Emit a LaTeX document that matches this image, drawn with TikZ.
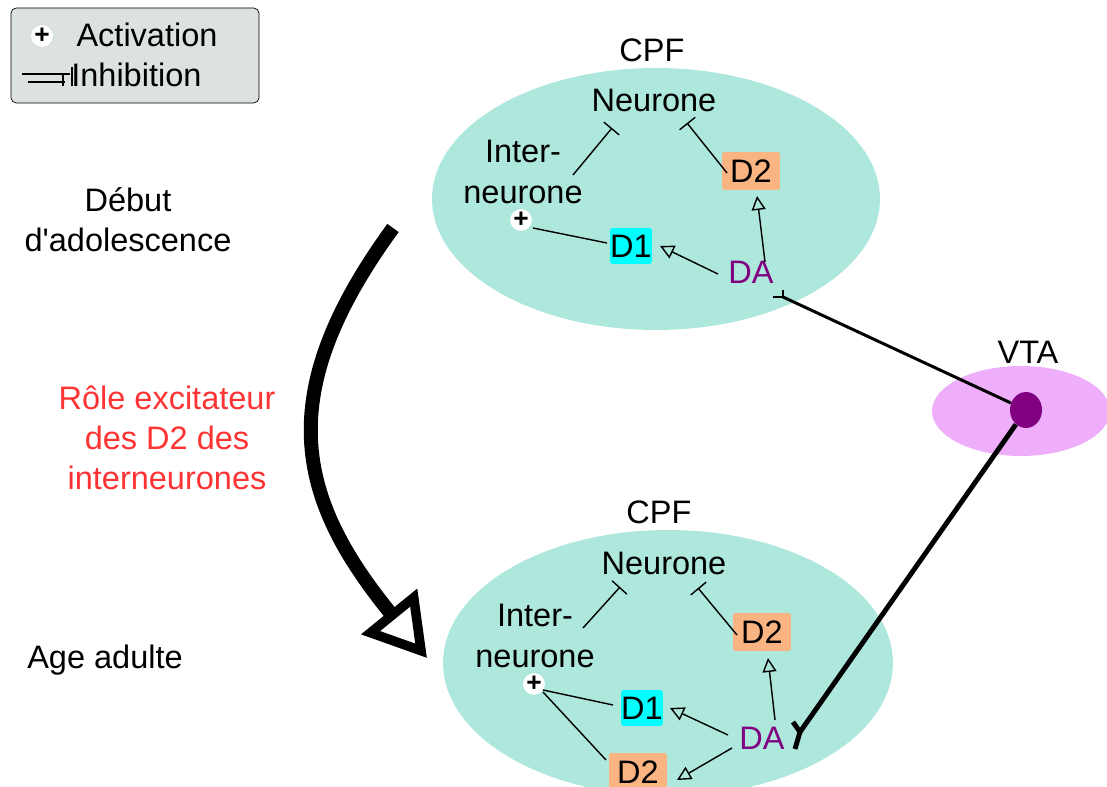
\documentclass[tikz,border=0pt]{standalone}
\usepackage{fontspec}
\setmainfont{Liberation Sans}[Ligatures=TeXOff]
\usetikzlibrary{arrows.meta,shapes.geometric}

\definecolor{cpfgreen}{RGB}{174,232,220}
\definecolor{vtapink}{RGB}{238,174,252}
\definecolor{legendgray}{RGB}{220,226,222}
\definecolor{recorange}{RGB}{250,180,130}
\definecolor{recCyan}{RGB}{0,255,255}
\definecolor{daviolet}{RGB}{128,0,128}
\definecolor{rolered}{RGB}{255,51,51}

\tikzset{
  lbl/.style={font=\fontsize{18.5}{22.8}\selectfont, inner sep=0pt},
  rec/.style={lbl, rounded corners=1.5pt, minimum height=0.76cm},
  dtwo/.style={rec, fill=recorange, minimum width=1.16cm},
  done/.style={rec, fill=recCyan, minimum width=0.84cm, minimum height=0.72cm},
  plus/.style={circle, fill=white, inner sep=0pt, minimum size=0.4cm,
    font=\bfseries\fontsize{15}{15}\selectfont},
  inhib/.style={thick, -{Bar[width=0.4cm]}},
  activ/.style={thick, -{Triangle[open,length=0.28cm,width=0.28cm]}},
  link/.style={thick},
}

\begin{document}
\begin{tikzpicture}[x=0.02cm, y=-0.02cm]
\useasboundingbox (0,0) rectangle (1107,787);

% legende
\draw[fill=legendgray, rounded corners=3pt] (11,8) rectangle (259,103);
\node[plus] (legplus) at (42,36) {+};
\node[lbl] (legact) at (147,35) {Activation};
\node[lbl, anchor=west] (leginh) at (71,75) {Inhibition};
\draw[thick] (22,74) -- (70,74) (28,82) -- (65,82) (63,75) -- (63,86) (72,67) -- (72,86);

% zones
\fill[cpfgreen] (656,199) ellipse [x radius=4.48cm, y radius=2.62cm];
\fill[cpfgreen] (668,663) ellipse [x radius=4.5cm, y radius=2.66cm];
\fill[vtapink] (1021,411) ellipse [x radius=1.78cm, y radius=0.9cm];

% textes a gauche
\node[lbl, align=center] (debut) at (128,220) {Début\\d'adolescence};
\node[lbl, align=center, text=rolered] (role) at (167,438) {Rôle excitateur\\des D2 des\\interneurones};
\node[lbl] (adulte) at (105,660) {Age adulte};

% CPF debut
\node[lbl] (cpf1) at (652,50) {CPF};
\node[lbl] (neur1) at (654,100) {Neurone};
\node[lbl, align=center] (inter1) at (523,172) {Inter-\\neurone};
\node[dtwo] (d2a1) at (751,171) {D2};
\node[done] (d1a) at (631,246) {D1};
\node[lbl, text=daviolet] (da1) at (751,272) {DA};
\node[plus] (plus1) at (521,220) {+};
\draw[inhib] ([shift={(50,3)}]inter1.center) -- ([shift={(-42,28)}]neur1.center);
\draw[inhib] ([shift={(-24,2)}]d2a1.center) -- ([shift={(33,23)}]neur1.center);
\draw[activ] ([shift={(14,-10)}]da1.center) -- ([shift={(6,25)}]d2a1.center);
\draw[activ] ([shift={(-33,2)}]da1.center) -- ([shift={(29,0)}]d1a.center);
\draw[link] ([shift={(-24,-3)}]d1a.center) -- ([shift={(12,8)}]plus1.center);

% CPF adulte
\node[lbl] (cpf2) at (659,512) {CPF};
\node[lbl] (neur2) at (664,563) {Neurone};
\node[lbl, align=center] (inter2) at (535,636) {Inter-\\neurone};
\node[dtwo] (d2a2) at (762,632) {D2};
\node[done] (d1b) at (642,708) {D1};
\node[lbl, text=daviolet] (da2) at (762,738) {DA};
\node[dtwo] (d2b) at (638,772) {D2};
\node[plus] (plus2) at (534,684) {+};
\draw[inhib] ([shift={(48,-8)}]inter2.center) -- ([shift={(-44,24)}]neur2.center);
\draw[inhib] ([shift={(-25,3)}]d2a2.center) -- ([shift={(34,25)}]neur2.center);
\draw[activ] ([shift={(13,-18)}]da2.center) -- ([shift={(6,26)}]d2a2.center);
\draw[activ] ([shift={(-34,-3)}]da2.center) -- ([shift={(28,0)}]d1b.center);
\draw[activ] ([shift={(-30,10)}]da2.center) -- ([shift={(39,8)}]d2b.center);
\draw[link] ([shift={(-29,-3)}]d1b.center) -- ([shift={(9,6)}]plus2.center);
\draw[link] ([shift={(-32,-12)}]d2b.center) -- ([shift={(9,8)}]plus2.center);

% VTA
\node[lbl] (vtalbl) at (1028,352) {VTA};
\node[ellipse, fill=daviolet, minimum width=0.64cm, minimum height=0.72cm, inner sep=0pt] (vtadot) at (1026,410) {};
\coordinate (syn1) at ([shift={(32,25)}]da1.center);
\coordinate (syn2) at ([shift={(38,-6)}]da2.center);
\draw[line width=1.7pt] (vtadot) -- (syn1);
\draw[line width=1.7pt] ([shift={(-10,0)}]syn1) -- (syn1) -- ([shift={(0,-7)}]syn1);
\draw[line width=2.8pt] (vtadot) -- (syn2);
\draw[line width=2.8pt] ([shift={(-7,-10)}]syn2) -- (syn2) -- ([shift={(-5,17)}]syn2);

% fleche
\draw[line width=0.28cm, -{Triangle[open, length=1.2cm, width=1.4cm, line width=0.19cm]}]
  (393,228) .. controls (272,394) and (296,497) .. (427,658);
\end{tikzpicture}
\end{document}
